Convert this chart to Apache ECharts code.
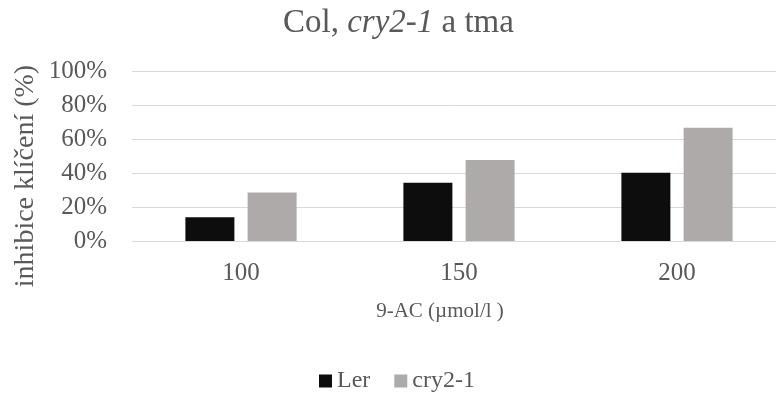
<!DOCTYPE html>
<html>
<head>
<meta charset="utf-8">
<script src="https://cdn.jsdelivr.net/npm/echarts@6/dist/echarts.min.js"></script>
<style>
  html, body { margin: 0; padding: 0; background: #ffffff; }
  #chart { width: 776px; height: 396px; }
</style>
</head>
<body>
<div id="chart"></div>
<script>
// Concentrations of 9-AC (µmol/l) on the category axis
const categories = ['100', '150', '200'];
// Germination inhibition, percent
const lerValues = [13.9, 34.3, 40.2];
const cry2Values = [28.6, 47.6, 66.6];
const seriesNames = ['Ler', 'cry2-1'];
const yTicks = { min: 0, max: 100, step: 20 };

const serif = '"Liberation Serif", "Times New Roman", serif';
const textGray = '#595959';
const gridGray = '#d9d9d9';

const chart = echarts.init(document.getElementById('chart'), null, { renderer: 'canvas' });

chart.setOption({
  animation: false,
  backgroundColor: '#ffffff',
  title: {
    text: '{n|Col, }{i|cry2-1}{n| a tma}',
    left: 283,
    top: 7,
    padding: 0,
    textStyle: {
      fontWeight: 'normal',
      rich: {
        n: { fontFamily: serif, fontSize: 33, fontWeight: 'normal', color: textGray },
        i: { fontFamily: serif, fontSize: 33, fontWeight: 'normal', fontStyle: 'italic', color: textGray }
      }
    }
  },
  legend: {
    data: seriesNames,
    top: 369,
    left: 319,
    padding: 0,
    icon: 'rect',
    itemWidth: 13,
    itemHeight: 13,
    itemGap: 24,
    textStyle: { fontFamily: serif, fontSize: 24, color: textGray }
  },
  grid: {
    left: 132,
    top: 71,
    width: 654,
    height: 170,
    containLabel: false,
    outerBoundsMode: 'none'
  },
  xAxis: {
    type: 'category',
    data: categories,
    name: '9-AC (\u00b5mol/l )',
    nameLocation: 'middle',
    nameGap: 60,
    nameTextStyle: {
      fontFamily: serif,
      fontSize: 21,
      color: textGray,
      padding: [0, 38, 0, 0]
    },
    axisLine: { lineStyle: { color: gridGray, width: 1 } },
    axisTick: { show: false },
    axisLabel: { fontFamily: serif, fontSize: 25, color: textGray, margin: 20 }
  },
  yAxis: {
    type: 'value',
    min: yTicks.min,
    max: yTicks.max,
    interval: yTicks.step,
    axisLine: { show: false },
    axisTick: { show: false },
    splitLine: { lineStyle: { color: gridGray, width: 1 } },
    axisLabel: {
      fontFamily: serif,
      fontSize: 25,
      color: textGray,
      margin: 25,
      formatter: '{value}%'
    }
  },
  graphic: [{
    type: 'text',
    x: 26,
    y: 176,
    rotation: Math.PI / 2,
    style: {
      text: 'inhibice klíčení (%)',
      fontFamily: serif,
      fontSize: 28,
      fill: textGray,
      align: 'center',
      verticalAlign: 'middle'
    }
  }],
  series: [
    {
      name: seriesNames[0],
      type: 'bar',
      data: lerValues,
      barWidth: 49,
      barGap: '27%',
      itemStyle: { color: '#0d0d0d' }
    },
    {
      name: seriesNames[1],
      type: 'bar',
      data: cry2Values,
      barWidth: 49,
      barGap: '27%',
      itemStyle: { color: '#aeaaaa' }
    }
  ]
});
</script>
</body>
</html>
